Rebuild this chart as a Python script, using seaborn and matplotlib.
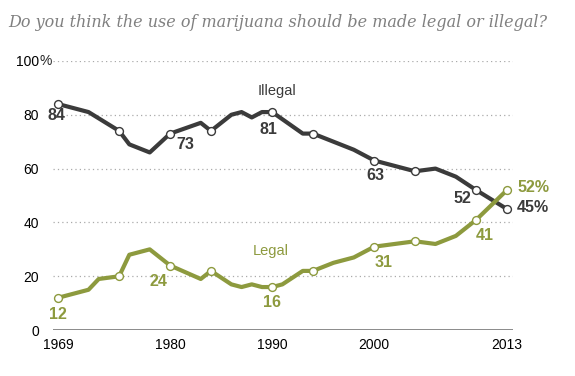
import pandas as pd
import matplotlib
matplotlib.use("Agg")
import matplotlib.pyplot as plt
import seaborn as sns

# Dados
anos_ilegal = [1969, 1972, 1975, 1976, 1978, 1980, 1983, 1984, 1986, 1987, 1988, 1989, 1990,
               1993, 1994, 1998, 2000, 2004, 2006, 2008, 2010, 2013]
ilegal = [84, 81, 74, 69, 66, 73, 77, 74, 80, 81, 79, 81, 81,
          73, 73, 67, 63, 59, 60, 57, 52, 45]
anos_legal = [1969, 1972, 1973, 1975, 1976, 1978, 1980, 1983, 1984, 1986, 1987, 1988, 1989, 1990,
              1991, 1993, 1994, 1996, 1998, 2000, 2004, 2006, 2008, 2010, 2013]
legal = [12, 15, 19, 20, 28, 30, 24, 19, 22, 17, 16, 17, 16, 16,
         17, 22, 22, 25, 27, 31, 33, 32, 35, 41, 52]

# anos com marcador (círculo)
anos_circulo = [1969, 1975, 1980, 1984, 1990, 1994, 2000, 2004, 2010, 2013]

cor_ilegal = "#3b3b3b"
cor_legal = "#8d9a3e"

df_ilegal = pd.DataFrame({"ano": anos_ilegal, "valor": ilegal})
df_legal = pd.DataFrame({"ano": anos_legal, "valor": legal})

sns.set_style("white")
plt.rcParams["font.family"] = ["Liberation Sans", "DejaVu Sans"]

fig = plt.figure(figsize=(5.75, 3.76), dpi=100)
ax = fig.add_axes([0.092, 0.122, 0.8, 0.716])

for y in [20, 40, 60, 80, 100]:
    ax.axhline(y, color="#aaaaaa", lw=0.9, ls=(0, (1, 2.5)), zorder=0)
ax.axhline(0, color="#777777", lw=1.2, zorder=1)

sns.lineplot(data=df_ilegal, x="ano", y="valor", color=cor_ilegal, lw=3, ax=ax, zorder=3)
sns.lineplot(data=df_legal, x="ano", y="valor", color=cor_legal, lw=3, ax=ax, zorder=3)

ci = df_ilegal[df_ilegal["ano"].isin(anos_circulo)]
cl = df_legal[df_legal["ano"].isin(anos_circulo)]
ax.scatter(ci["ano"], ci["valor"], s=32, facecolor="white", edgecolor=cor_ilegal, lw=1.0, zorder=4)
ax.scatter(cl["ano"], cl["valor"], s=32, facecolor="white", edgecolor=cor_legal, lw=1.0, zorder=4)

# rótulos de dados (deslocamento em anos, pontos percentuais)
rotulos_ilegal = {1969: (-0.1, -4.4), 1980: (1.5, -3.9), 1990: (-0.4, -6.3), 2000: (0.1, -5.6), 2010: (-1.4, -3)}
for ano, (dx, dy) in rotulos_ilegal.items():
    v = ilegal[anos_ilegal.index(ano)]
    ax.text(ano + dx, v + dy, str(v), color=cor_ilegal, fontsize=11.5, fontweight="bold",
            ha="center", va="center")
rotulos_legal = {1969: (0, -6.1), 1980: (-1.1, -5.9), 1990: (0, -5.9), 2000: (0.9, -5.7), 2010: (0.8, -5.8)}
for ano, (dx, dy) in rotulos_legal.items():
    v = legal[anos_legal.index(ano)]
    ax.text(ano + dx, v + dy, str(v), color=cor_legal, fontsize=11.5, fontweight="bold",
            ha="center", va="center")
ax.text(2014.0, 53.1, "52%", color=cor_legal, fontsize=11.5, fontweight="bold", ha="left", va="center")
ax.text(2014.0, 45.6, "45%", color=cor_ilegal, fontsize=11.5, fontweight="bold", ha="left", va="center")

ax.text(1990.5, 88.9, "Illegal", color=cor_ilegal, fontsize=10.5, ha="center", va="center")
ax.text(1989.9, 29.3, "Legal", color=cor_legal, fontsize=10.5, ha="center", va="center")

ax.set_xlim(1968.51, 2013.59)
ax.set_ylim(0, 100)
ax.set_xticks([1969, 1980, 1990, 2000, 2013])
ax.set_yticks([0, 20, 40, 60, 80, 100])
ax.set_yticklabels(["0", "20", "40", "60", "80", "100"])
ax.tick_params(length=0, labelsize=10, colors="black")
ax.tick_params(axis="y", pad=10)
ax.tick_params(axis="x", pad=6)
# o "%" fica pendurado à direita do 100
ax.annotate("%", xy=(0, 100), xycoords=("axes fraction", "data"), xytext=(-10, 0),
            textcoords="offset points", ha="left", va="center", fontsize=10)
ax.set_xlabel("")
ax.set_ylabel("")
sns.despine(ax=ax, left=True, bottom=True)

fig.text(0.014, 0.94, "Do you think the use of marijuana should be made legal or illegal?",
         family="DejaVu Serif", style="italic", fontsize=11.5, color="#808080", va="center")

fig.savefig("out.png", dpi=100)
